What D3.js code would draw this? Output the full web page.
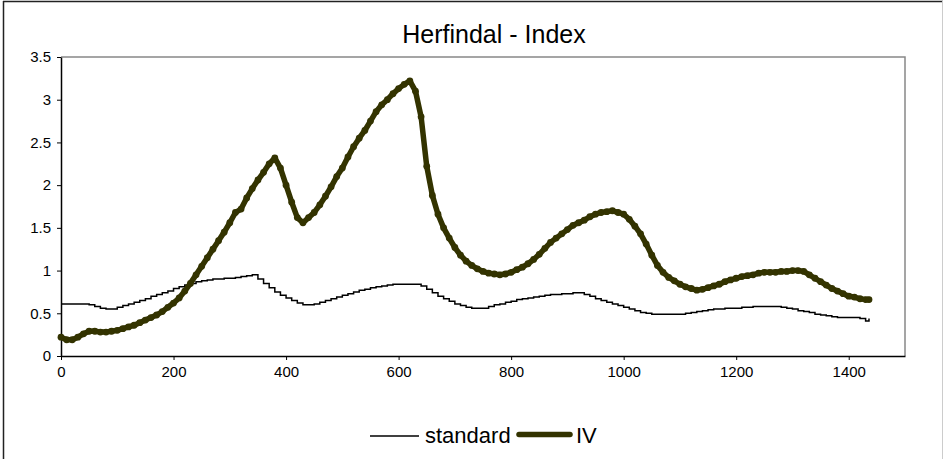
<!DOCTYPE html>
<html>
<head>
<meta charset="utf-8">
<title>Herfindal - Index</title>
<script src="https://cdn.jsdelivr.net/npm/d3@7"></script>
<style>
  body { margin: 0; background: #fff; }
  text { font-family: "Liberation Sans", Arial, sans-serif; fill: #000; }
</style>
</head>
<body>
<script>
// x positions (minutes), shared by both series
var minutes = d3.range(0, 1440, 10).concat([1436]);

var ivValues = [
  0.22, 0.19, 0.19, 0.22, 0.26, 0.29, 0.29, 0.28, 0.28, 0.29,
  0.30, 0.32, 0.34, 0.36, 0.39, 0.42, 0.45, 0.48, 0.52, 0.57,
  0.62, 0.68, 0.76, 0.85, 0.95, 1.05, 1.15, 1.25, 1.35, 1.45,
  1.56, 1.68, 1.72, 1.85, 1.96, 2.06, 2.15, 2.25, 2.32, 2.20,
  2.00, 1.80, 1.62, 1.56, 1.62, 1.68, 1.77, 1.87, 1.98, 2.10,
  2.20, 2.33, 2.45, 2.55, 2.64, 2.75, 2.86, 2.94, 3.00, 3.07,
  3.13, 3.18, 3.22, 3.10, 2.80, 2.22, 1.88, 1.66, 1.50, 1.38,
  1.27, 1.18, 1.11, 1.06, 1.02, 0.99, 0.97, 0.96, 0.95, 0.96,
  0.98, 1.01, 1.04, 1.08, 1.13, 1.19, 1.26, 1.33, 1.38, 1.43,
  1.48, 1.53, 1.56, 1.59, 1.63, 1.66, 1.68, 1.69, 1.70, 1.68,
  1.66, 1.60, 1.52, 1.43, 1.31, 1.18, 1.06, 0.98, 0.92, 0.88,
  0.84, 0.81, 0.79, 0.77, 0.78, 0.80, 0.82, 0.84, 0.87, 0.89,
  0.91, 0.93, 0.94, 0.95, 0.97, 0.98, 0.98, 0.98, 0.99, 0.99,
  1.00, 1.00, 0.99, 0.95, 0.91, 0.87, 0.83, 0.79, 0.76, 0.73,
  0.70, 0.69, 0.67, 0.66, 0.66
];

var stdValues = [
  0.61, 0.61, 0.61, 0.61, 0.61, 0.60, 0.58, 0.56, 0.55, 0.55,
  0.57, 0.59, 0.61, 0.63, 0.65, 0.67, 0.70, 0.72, 0.74, 0.76,
  0.79, 0.81, 0.83, 0.85, 0.87, 0.88, 0.89, 0.90, 0.90, 0.91,
  0.91, 0.92, 0.93, 0.94, 0.95, 0.90, 0.85, 0.80, 0.75, 0.71,
  0.68, 0.65, 0.62, 0.60, 0.60, 0.61, 0.63, 0.65, 0.67, 0.69,
  0.71, 0.73, 0.75, 0.77, 0.78, 0.80, 0.81, 0.82, 0.83, 0.84,
  0.84, 0.84, 0.84, 0.84, 0.82, 0.78, 0.74, 0.70, 0.67, 0.64,
  0.61, 0.59, 0.57, 0.56, 0.56, 0.56, 0.58, 0.60, 0.61, 0.63,
  0.64, 0.66, 0.67, 0.68, 0.69, 0.70, 0.71, 0.72, 0.72, 0.73,
  0.73, 0.74, 0.74, 0.72, 0.70, 0.67, 0.65, 0.63, 0.61, 0.59,
  0.57, 0.55, 0.53, 0.51, 0.50, 0.49, 0.49, 0.49, 0.49, 0.49,
  0.49, 0.50, 0.51, 0.52, 0.53, 0.54, 0.55, 0.55, 0.56, 0.56,
  0.56, 0.57, 0.57, 0.58, 0.58, 0.58, 0.58, 0.58, 0.57, 0.56,
  0.55, 0.53, 0.52, 0.51, 0.49, 0.48, 0.47, 0.46, 0.45, 0.45,
  0.45, 0.45, 0.44, 0.41, 0.44
];

var xTicks = [0, 200, 400, 600, 800, 1000, 1200, 1400];
var yTicks = [0, 0.5, 1, 1.5, 2, 2.5, 3, 3.5];
var seriesNames = ["standard", "IV"];

var width = 943, height = 459;
var plotLeft = 61, plotRight = 905, plotTop = 57, plotBottom = 356;

var svg = d3.select("body").append("svg")
    .attr("width", width)
    .attr("height", height);

// chart border
svg.append("line").attr("x1", 3).attr("y1", 1.5).attr("x2", width).attr("y2", 1.5)
    .attr("stroke", "#222").attr("stroke-width", 1.5);
svg.append("line").attr("x1", 3.5).attr("y1", 1).attr("x2", 3.5).attr("y2", height)
    .attr("stroke", "#222").attr("stroke-width", 1.5);
svg.append("line").attr("x1", 942.5).attr("y1", 1).attr("x2", 942.5).attr("y2", height)
    .attr("stroke", "#ccc").attr("stroke-width", 1);

var x = d3.scaleLinear().domain([0, 1500]).range([plotLeft, plotRight]);
var y = d3.scaleLinear().domain([0, 3.5]).range([plotBottom, plotTop]);

// plot area border (top & right in grey)
svg.append("path")
    .attr("d", "M" + plotLeft + "," + plotTop + "H" + plotRight + "V" + plotBottom)
    .attr("fill", "none")
    .attr("stroke", "#888")
    .attr("stroke-width", 1.5);

svg.append("text")
    .attr("x", 494).attr("y", 43)
    .attr("text-anchor", "middle")
    .style("font-size", "25px")
    .text("Herfindal - Index");

var xAxis = svg.append("g")
    .attr("transform", "translate(0," + plotBottom + ")")
    .call(d3.axisBottom(x).tickValues(xTicks).tickSize(4).tickSizeOuter(0).tickPadding(6)
        .tickFormat(d3.format("d")));
var yAxis = svg.append("g")
    .attr("transform", "translate(" + plotLeft + ",0)")
    .call(d3.axisLeft(y).tickValues(yTicks).tickSize(4).tickSizeOuter(0).tickPadding(6)
        .tickFormat(d3.format("")));

[xAxis, yAxis].forEach(function (a) {
    a.attr("font-size", 15).attr("font-family", "Liberation Sans, Arial, sans-serif");
    a.select(".domain").attr("stroke", "#000").attr("stroke-width", 1.5);
    a.selectAll(".tick line").attr("stroke", "#000");
    a.selectAll("text").attr("fill", "#000");
});

var stdData = minutes.map(function (d, i) { return [d, stdValues[i]]; });
var ivData = minutes.map(function (d, i) { return [d, ivValues[i]]; });

var stepLine = d3.line()
    .x(function (d) { return x(d[0]); })
    .y(function (d) { return y(d[1]); })
    .curve(d3.curveStepAfter);
var line = d3.line()
    .x(function (d) { return x(d[0]); })
    .y(function (d) { return y(d[1]); });

svg.append("path")
    .datum(stdData)
    .attr("fill", "none")
    .attr("stroke", "#000")
    .attr("stroke-width", 1.5)
    .attr("d", stepLine);

svg.append("path")
    .datum(ivData)
    .attr("fill", "none")
    .attr("stroke", "#333300")
    .attr("stroke-width", 5.5)
    .attr("stroke-linejoin", "round")
    .attr("stroke-linecap", "round")
    .attr("d", line);

svg.append("g").selectAll("circle")
    .data(ivData)
    .enter()
    .append("circle")
    .attr("cx", function (d) { return x(d[0]); })
    .attr("cy", function (d) { return y(d[1]); })
    .attr("r", 3.4)
    .attr("fill", "#333300");

// legend
var legend = svg.append("g");
legend.append("line").attr("x1", 370).attr("x2", 419).attr("y1", 436).attr("y2", 436)
    .attr("stroke", "#000").attr("stroke-width", 1.5);
legend.append("text").attr("x", 425).attr("y", 443).style("font-size", "22px").text(seriesNames[0]);
legend.append("line").attr("x1", 519).attr("x2", 570).attr("y1", 434.5).attr("y2", 434.5)
    .attr("stroke", "#333300").attr("stroke-width", 5.5).attr("stroke-linecap", "round");
legend.append("text").attr("x", 576).attr("y", 443).style("font-size", "22px").text(seriesNames[1]);
</script>
</body>
</html>
